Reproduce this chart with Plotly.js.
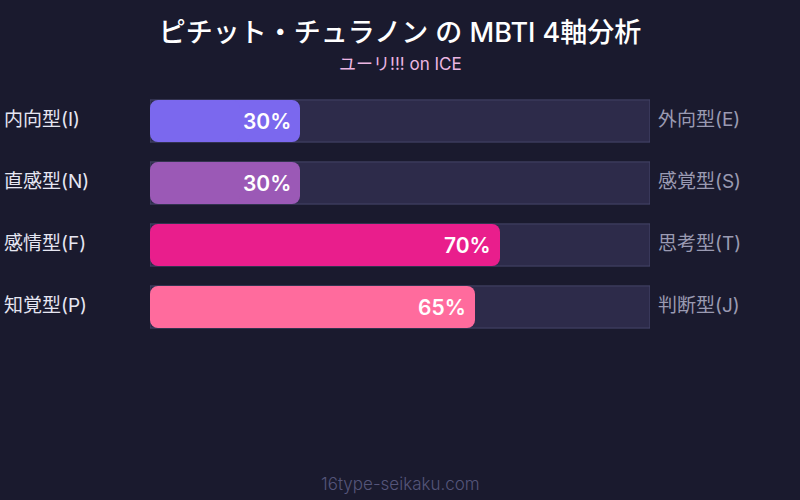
<!DOCTYPE html>
<html><head><meta charset="utf-8">
<script src="https://cdn.plot.ly/plotly-3.0.1.min.js"></script>
<style>html,body{margin:0;padding:0;background:#1a1a2e;}#chart{width:800px;height:500px;}</style>
</head><body><div id="chart"></div>
<script>
const leftLabels = ["内向型(I)", "直感型(N)", "感情型(F)", "知覚型(P)"];
const rightLabels = ["外向型(E)", "感覚型(S)", "思考型(T)", "判断型(J)"];
const values = [30, 30, 70, 65];
const barColors = ["#7b68ee", "#9b59b6", "#e91e8c", "#ff6b9d"];
const trackMax = [100, 100, 100, 100];
const titleText = "ピチット・チュラノン の MBTI 4軸分析";
const subtitleText = "ユーリ!!! on ICE";
const footerText = "16type-seikaku.com";

const FONT = "Inter, 'Noto Sans CJK JP', sans-serif";
const cats = leftLabels.map((_, i) => i);

const track = {
  type: 'bar', orientation: 'h', y: cats, x: trackMax, width: 0.68,
  xaxis: 'x', yaxis: 'y',
  marker: {color: '#2d2b4a', line: {color: '#46466a', width: 1}},
  hoverinfo: 'skip', showlegend: false
};
// Each filled bar is drawn as two overlapping halves so both ends get rounded corners.
const fillRight = {
  type: 'bar', orientation: 'h', y: cats, width: 0.68,
  base: values.map(v => v * 0.4), x: values.map(v => v * 0.6),
  xaxis: 'x2', yaxis: 'y2',
  marker: {color: barColors, cornerradius: 8, line: {width: 0}},
  hoverinfo: 'skip', showlegend: false
};
const fillLeft = {
  type: 'bar', orientation: 'h', y: cats, width: 0.68,
  base: values.map(v => v * 0.6), x: values.map(v => -v * 0.6),
  xaxis: 'x3', yaxis: 'y3',
  marker: {color: barColors, cornerradius: 8, line: {width: 0}},
  hoverinfo: 'skip', showlegend: false
};

const annotations = [];
values.forEach((v, i) => {
  annotations.push({x: v, y: i, xref: 'x2', yref: 'y2', text: v + '%', showarrow: false,
    xanchor: 'right', xshift: -7, font: {family: FONT, size: 21, color: '#ffffff', weight: 600}});
  annotations.push({x: -0.296, y: i, xref: 'paper', yref: 'y', yshift: 2, text: leftLabels[i], showarrow: false,
    xanchor: 'left', font: {family: FONT, size: 19, color: '#e6e6f2'}});
  annotations.push({x: 1.012, y: i, xref: 'paper', yref: 'y', yshift: 2, text: rightLabels[i], showarrow: false,
    xanchor: 'left', font: {family: FONT, size: 19, color: '#9a9ab2'}});
});
annotations.push({x: 0.5, y: 1.105, xref: 'paper', yref: 'paper', yanchor: 'middle', text: subtitleText, showarrow: false,
  font: {family: FONT, size: 17, color: '#ecb6e2'}});
annotations.push({x: 0.5, y: -0.589, xref: 'paper', yref: 'paper', yanchor: 'middle', text: footerText, showarrow: false,
  font: {family: FONT, size: 17, color: '#55557a', weight: 300}});

const ax = {range: [0, 100], visible: false, fixedrange: true};
const ay = {range: [3.5, -0.5], visible: false, fixedrange: true};
const layout = {
  width: 800, height: 500,
  paper_bgcolor: '#1a1a2e', plot_bgcolor: 'rgba(0,0,0,0)',
  margin: {l: 150, r: 150, t: 90, b: 162},
  title: {text: titleText, x: 0.5, xanchor: 'center', xref: 'paper', y: 0.934, yref: 'container', yanchor: 'middle',
    font: {family: FONT, size: 27, color: '#ffffff', weight: 500}},
  xaxis: ax, yaxis: ay,
  xaxis2: Object.assign({overlaying: 'x'}, ax), yaxis2: Object.assign({overlaying: 'y'}, ay),
  xaxis3: Object.assign({overlaying: 'x'}, ax), yaxis3: Object.assign({overlaying: 'y'}, ay),
  annotations: annotations
};
Plotly.newPlot('chart', [track, fillLeft, fillRight], layout, {displayModeBar: false, staticPlot: true});
</script></body></html>
